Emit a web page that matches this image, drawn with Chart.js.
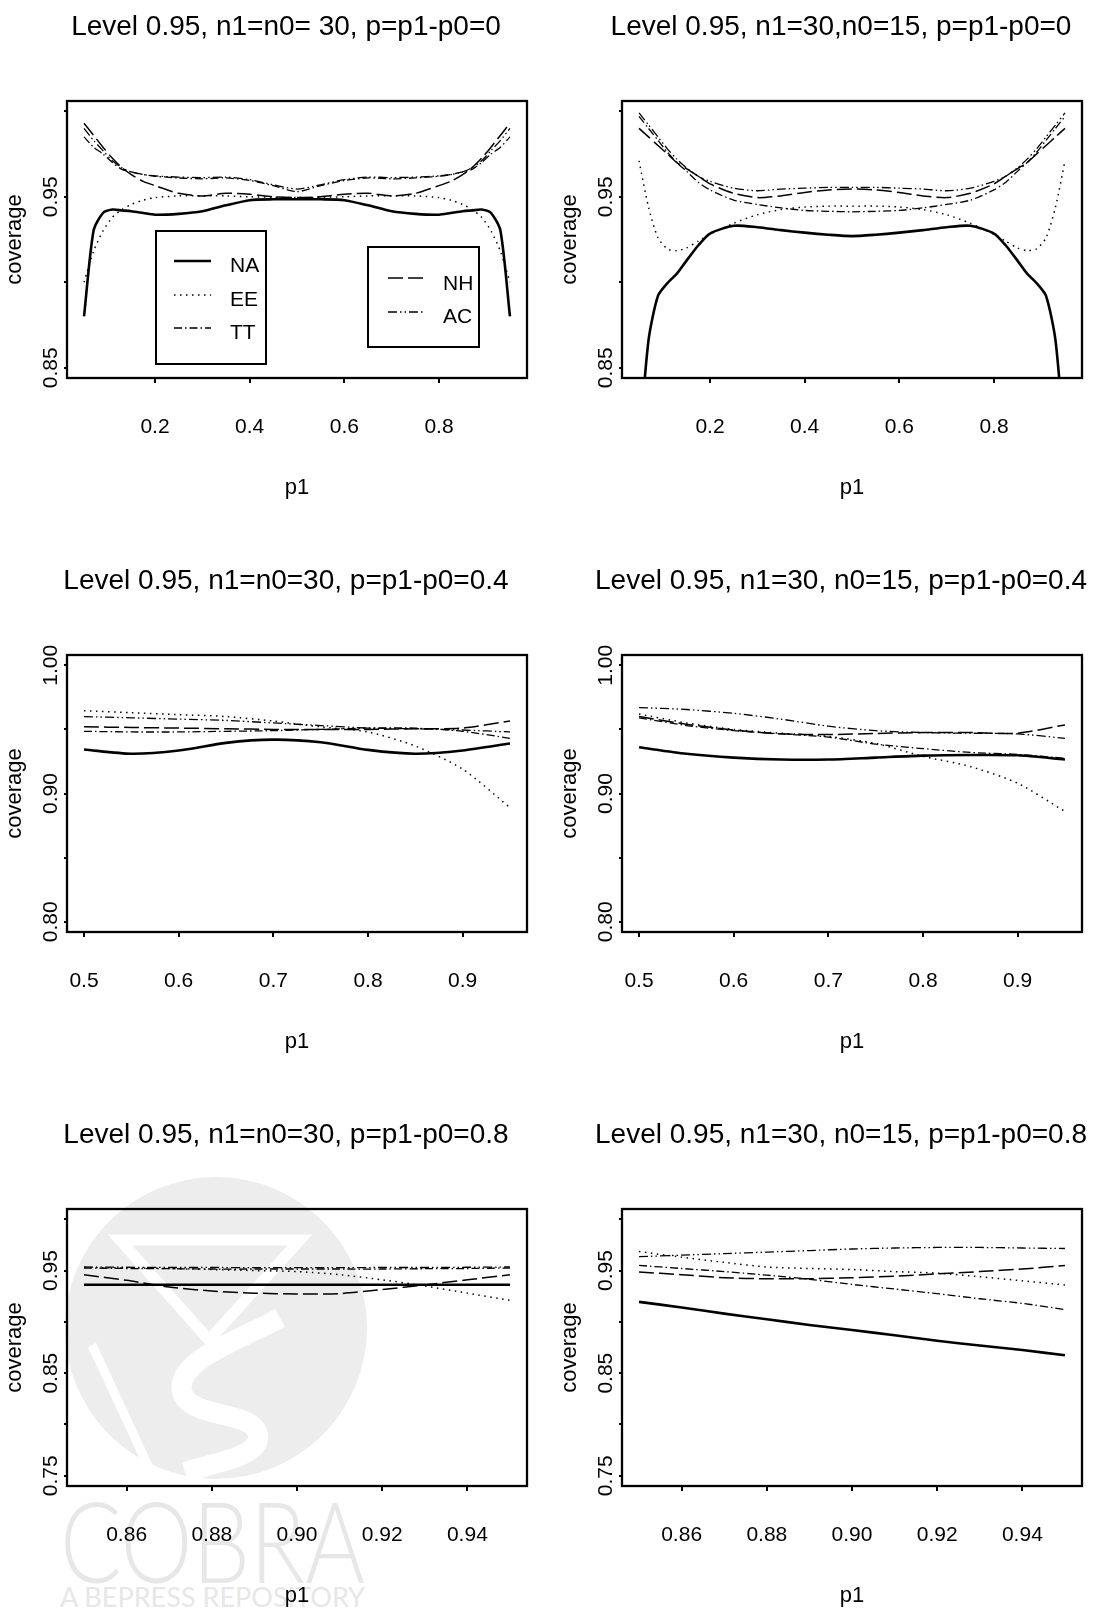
<!DOCTYPE html>
<html>
<head>
<meta charset="utf-8">
<script src="https://cdn.jsdelivr.net/npm/chart.js@4.4.0/dist/chart.umd.min.js"></script>
<style>
html, body { margin: 0; padding: 0; background: #fff; }
#page { position: relative; width: 1095px; height: 1610px; overflow: hidden; background: #fff; }
#page canvas { position: absolute; }
#mark { position: absolute; left: 0; top: 0; }
</style>
</head>
<body>
<div id="page">
  <svg id="mark" width="1095" height="1610">
    <circle cx="216" cy="1328" r="151" fill="#ededed"/>
    <polygon points="120,1240 300,1240 209,1340" fill="none" stroke="#fff" stroke-width="11"/>
    <path d="M280 1318 C240 1340 175 1360 182 1392 C190 1420 255 1410 258 1435 C260 1458 215 1462 185 1472" fill="none" stroke="#fff" stroke-width="20"/>
    <path d="M92 1345 L150 1470" stroke="#fff" stroke-width="9"/>
    <text x="60" y="1583" font-family="Lato, 'Open Sans', sans-serif" font-weight="300" font-size="112" fill="#e7e7e7" textLength="305" lengthAdjust="spacingAndGlyphs">COBRA</text>
    <text x="60" y="1607" font-family="Lato, 'Open Sans', sans-serif" font-size="26" fill="#e7e7e7" textLength="305" lengthAdjust="spacingAndGlyphs">A BEPRESS REPOSITORY</text>
  </svg>
  <canvas id="c0" width="540" height="554" style="left:0;top:0"></canvas>
  <canvas id="c1" width="540" height="554" style="left:555px;top:0"></canvas>
  <canvas id="c2" width="540" height="554" style="left:0;top:554px"></canvas>
  <canvas id="c3" width="540" height="554" style="left:555px;top:554px"></canvas>
  <canvas id="c4" width="540" height="554" style="left:0;top:1108px"></canvas>
  <canvas id="c5" width="540" height="554" style="left:555px;top:1108px"></canvas>
</div>
<script>
// ---- data ----
const names = ["NA", "EE", "TT", "NH", "AC"];
const titles = [
  "Level 0.95, n1=n0= 30, p=p1-p0=0",
  "Level 0.95, n1=30,n0=15, p=p1-p0=0",
  "Level 0.95, n1=n0=30, p=p1-p0=0.4",
  "Level 0.95, n1=30, n0=15, p=p1-p0=0.4",
  "Level 0.95, n1=n0=30, p=p1-p0=0.8",
  "Level 0.95, n1=30, n0=15, p=p1-p0=0.8"
];

// p = 0
const xA = [0.05, 0.07, 0.09, 0.11, 0.13, 0.15, 0.175, 0.2, 0.25, 0.3, 0.35, 0.4, 0.45, 0.5,
            0.55, 0.6, 0.65, 0.7, 0.75, 0.8, 0.825, 0.85, 0.87, 0.89, 0.91, 0.93, 0.95];
const xTicksA = [0.2, 0.4, 0.6, 0.8];
const yTicksA = [0.85, 0.90, 0.95, 1.00];
const yLabelsA = [0.85, 0.95];

const na1 = [0.880, 0.930, 0.9405, 0.9425, 0.942, 0.9415, 0.9405, 0.9395, 0.940, 0.9415, 0.945, 0.948, 0.9485, 0.9485,
             0.9485, 0.948, 0.945, 0.9415, 0.940, 0.9395, 0.9405, 0.9415, 0.942, 0.9425, 0.9405, 0.930, 0.880];
const ee1 = [0.900, 0.918, 0.930, 0.938, 0.9425, 0.9455, 0.948, 0.9495, 0.9505, 0.9505, 0.9505, 0.950, 0.9497, 0.9495,
             0.9497, 0.950, 0.9505, 0.9505, 0.9505, 0.9495, 0.948, 0.9455, 0.9425, 0.938, 0.930, 0.918, 0.900];
const tt1 = [0.985, 0.979, 0.975, 0.970, 0.966, 0.9645, 0.963, 0.962, 0.961, 0.9605, 0.961, 0.9595, 0.9565, 0.953,
             0.9565, 0.9595, 0.961, 0.9605, 0.961, 0.962, 0.963, 0.9645, 0.966, 0.970, 0.975, 0.979, 0.985];
const nh1 = [0.993, 0.986, 0.979, 0.9725, 0.967, 0.963, 0.959, 0.9565, 0.952, 0.9505, 0.952, 0.9515, 0.950, 0.9495,
             0.950, 0.9515, 0.952, 0.9505, 0.952, 0.9565, 0.959, 0.963, 0.967, 0.9725, 0.979, 0.986, 0.993];
const ac1 = [0.990, 0.983, 0.977, 0.971, 0.967, 0.9645, 0.963, 0.9622, 0.9615, 0.9612, 0.9615, 0.960, 0.957, 0.9545,
             0.957, 0.960, 0.9615, 0.9612, 0.9615, 0.9622, 0.963, 0.9645, 0.967, 0.971, 0.977, 0.983, 0.990];

const na2 = [0.803, 0.866, 0.892, 0.8995, 0.905, 0.9125, 0.9215, 0.9285, 0.933, 0.9322, 0.9305, 0.929, 0.9278, 0.927,
             0.9278, 0.929, 0.9305, 0.9322, 0.933, 0.9285, 0.9215, 0.9125, 0.905, 0.8995, 0.892, 0.866, 0.803];
const ee2 = [0.971, 0.944, 0.926, 0.9195, 0.9185, 0.920, 0.924, 0.928, 0.9345, 0.9395, 0.9425, 0.944, 0.9445, 0.9445,
             0.9445, 0.944, 0.9425, 0.9395, 0.9345, 0.928, 0.924, 0.920, 0.9185, 0.9195, 0.926, 0.944, 0.971];
const tt2 = [0.997, 0.990, 0.983, 0.976, 0.970, 0.965, 0.9585, 0.954, 0.948, 0.9455, 0.9435, 0.942, 0.9415, 0.9412,
             0.9415, 0.942, 0.9435, 0.9455, 0.948, 0.954, 0.9585, 0.965, 0.970, 0.976, 0.983, 0.990, 0.997];
const nh2 = [0.990, 0.985, 0.980, 0.975, 0.970, 0.9665, 0.962, 0.9575, 0.952, 0.9495, 0.9505, 0.9525, 0.954, 0.9545,
             0.954, 0.9525, 0.9505, 0.9495, 0.952, 0.9575, 0.962, 0.9665, 0.970, 0.975, 0.980, 0.985, 0.990];
const ac2 = [0.999, 0.992, 0.985, 0.978, 0.972, 0.967, 0.962, 0.959, 0.955, 0.9535, 0.9545, 0.955, 0.9555, 0.9555,
             0.9555, 0.955, 0.9545, 0.9535, 0.955, 0.959, 0.962, 0.967, 0.972, 0.978, 0.985, 0.992, 0.999];

// p = 0.4
const xB = [0.5, 0.55, 0.6, 0.65, 0.7, 0.75, 0.8, 0.85, 0.9, 0.95];
const xTicksB = [0.5, 0.6, 0.7, 0.8, 0.9];
const yTicksB = [0.80, 0.85, 0.90, 0.95, 1.00];
const yLabelsB = [0.80, 0.90, 1.00];

const na3 = [0.9343, 0.931, 0.9335, 0.9395, 0.942, 0.940, 0.934, 0.931, 0.9335, 0.939];
const ee3 = [0.9645, 0.963, 0.9615, 0.960, 0.9565, 0.952, 0.948, 0.937, 0.919, 0.889];
const tt3 = [0.9485, 0.948, 0.948, 0.9485, 0.949, 0.950, 0.951, 0.951, 0.9485, 0.943];
const nh3 = [0.952, 0.9515, 0.951, 0.9505, 0.950, 0.950, 0.950, 0.9505, 0.951, 0.9565];
const ac3 = [0.960, 0.959, 0.958, 0.957, 0.955, 0.953, 0.951, 0.9505, 0.9495, 0.948];

const na4 = [0.936, 0.931, 0.928, 0.9265, 0.9265, 0.928, 0.9295, 0.930, 0.9298, 0.9265];
const ee4 = [0.962, 0.955, 0.950, 0.947, 0.9445, 0.939, 0.929, 0.921, 0.908, 0.886];
const tt4 = [0.959, 0.953, 0.949, 0.9465, 0.944, 0.9385, 0.935, 0.932, 0.9305, 0.9275];
const nh4 = [0.960, 0.954, 0.9495, 0.9465, 0.946, 0.9468, 0.9475, 0.9475, 0.947, 0.9535];
const ac4 = [0.967, 0.9655, 0.9625, 0.958, 0.9525, 0.949, 0.9475, 0.947, 0.9465, 0.943];

// p = 0.8
const xC = [0.85, 0.86, 0.87, 0.88, 0.89, 0.90, 0.91, 0.92, 0.93, 0.94, 0.95];
const xTicksC = [0.86, 0.88, 0.90, 0.92, 0.94];
const yTicksC = [0.75, 0.80, 0.85, 0.90, 0.95, 1.00];
const yLabelsC = [0.75, 0.85, 0.95];

const na5 = [0.9362, 0.9362, 0.9362, 0.9362, 0.9362, 0.9362, 0.9362, 0.9362, 0.9362, 0.9362, 0.9362];
const ee5 = [0.953, 0.9525, 0.952, 0.951, 0.950, 0.949, 0.946, 0.941, 0.935, 0.928, 0.921];
const tt5 = [0.9525, 0.952, 0.9518, 0.9515, 0.9515, 0.9515, 0.9515, 0.9515, 0.9518, 0.952, 0.9525];
const nh5 = [0.9458, 0.9405, 0.934, 0.930, 0.928, 0.9272, 0.9275, 0.9315, 0.936, 0.941, 0.9458];
const ac5 = [0.9535, 0.9532, 0.953, 0.953, 0.9528, 0.9528, 0.9528, 0.953, 0.953, 0.9532, 0.9535];

const na6 = [0.9195, 0.914, 0.908, 0.9025, 0.897, 0.892, 0.887, 0.8815, 0.877, 0.8725, 0.8675];
const ee6 = [0.9685, 0.963, 0.958, 0.9535, 0.952, 0.951, 0.949, 0.9475, 0.944, 0.940, 0.936];
const tt6 = [0.955, 0.952, 0.949, 0.9455, 0.9415, 0.9365, 0.932, 0.9275, 0.9225, 0.918, 0.912];
const nh6 = [0.9485, 0.946, 0.943, 0.942, 0.942, 0.943, 0.9445, 0.9468, 0.949, 0.9515, 0.955];
const ac6 = [0.9635, 0.965, 0.9665, 0.968, 0.9695, 0.971, 0.972, 0.9725, 0.9725, 0.972, 0.9715];

// ---- styles / layout ----
const FONT = '"Liberation Sans", Arial, sans-serif';
Chart.defaults.font.family = FONT;
Chart.defaults.color = "#000";

const lineStyle = {
  NA: { w: 2.6, dash: [] },
  EE: { w: 1.5, dash: [1.5, 4.5] },
  TT: { w: 1.3, dash: [8, 3, 1.5, 3] },
  NH: { w: 1.5, dash: [15, 5] },
  AC: { w: 1.3, dash: [9, 3, 1.5, 3, 1.5, 3] }
};

// legend boxes of the first panel (canvas coords)
const legendBoxes = [
  { x: 156, y: 231, w: 110, h: 133 },
  { x: 368, y: 247, w: 111, h: 100 }
];
const legendRows = [
  { label: "NA", x1: 174, x2: 211, ly: 261, tx: 230, ty: 266 },
  { label: "EE", x1: 174, x2: 211, ly: 295, tx: 230, ty: 300 },
  { label: "TT", x1: 174, x2: 211, ly: 328, tx: 230, ty: 333 },
  { label: "NH", x1: 388, x2: 423, ly: 278, tx: 443, ty: 284 },
  { label: "AC", x1: 388, x2: 423, ly: 312, tx: 443, ty: 317 }
];

const framePlugin = {
  id: "frame",
  afterDraw(chart, args, opts) {
    const { ctx, chartArea: a } = chart;
    ctx.save();
    ctx.strokeStyle = "#000";
    ctx.lineWidth = 2.3;
    ctx.setLineDash([]);
    ctx.strokeRect(a.left, a.top, a.right - a.left, a.bottom - a.top);

    // rotated y tick labels
    const ys = chart.scales.y;
    ctx.fillStyle = "#000";
    ctx.font = "21px " + FONT;
    ctx.textAlign = "center";
    ctx.textBaseline = "alphabetic";
    opts.yLabels.forEach(v => {
      ctx.save();
      ctx.translate(a.left - 10, ys.getPixelForValue(v));
      ctx.rotate(-Math.PI / 2);
      ctx.fillText(v.toFixed(2), 0, 0);
      ctx.restore();
    });

    // panel title
    ctx.font = "28px " + FONT;
    ctx.textBaseline = "middle";
    ctx.fillText(opts.title, (a.left + a.right) / 2 - 11, 27);

    if (opts.legend) {
      ctx.lineWidth = 2;
      legendBoxes.forEach(b => ctx.strokeRect(b.x, b.y, b.w, b.h));
      ctx.font = "21px " + FONT;
      ctx.textAlign = "left";
      legendRows.forEach(r => {
        const ds = chart.data.datasets.find(d => d.label === r.label);
        ctx.lineWidth = ds.borderWidth;
        ctx.setLineDash(ds.borderDash);
        ctx.beginPath();
        ctx.moveTo(r.x1, r.ly);
        ctx.lineTo(r.x2, r.ly);
        ctx.stroke();
        ctx.setLineDash([]);
        ctx.fillText(r.label, r.tx, r.ty);
      });
    }
    ctx.restore();
  }
};

const panels = [
  { x: xA, ys: [na1, ee1, tt1, nh1, ac1], xr: [0.014, 0.986], yr: [0.844, 1.006], xt: xTicksA, dec: 1, yt: yTicksA, yl: yLabelsA, legend: true },
  { x: xA, ys: [na2, ee2, tt2, nh2, ac2], xr: [0.014, 0.986], yr: [0.844, 1.006], xt: xTicksA, dec: 1, yt: yTicksA, yl: yLabelsA },
  { x: xB, ys: [na3, ee3, tt3, nh3, ac3], xr: [0.482, 0.968], yr: [0.792, 1.008], xt: xTicksB, dec: 1, yt: yTicksB, yl: yLabelsB },
  { x: xB, ys: [na4, ee4, tt4, nh4, ac4], xr: [0.482, 0.968], yr: [0.792, 1.008], xt: xTicksB, dec: 1, yt: yTicksB, yl: yLabelsB },
  { x: xC, ys: [na5, ee5, tt5, nh5, ac5], xr: [0.846, 0.954], yr: [0.74, 1.01], xt: xTicksC, dec: 2, yt: yTicksC, yl: yLabelsC },
  { x: xC, ys: [na6, ee6, tt6, nh6, ac6], xr: [0.846, 0.954], yr: [0.74, 1.01], xt: xTicksC, dec: 2, yt: yTicksC, yl: yLabelsC }
];

panels.forEach((p, i) => {
  const datasets = names.map((n, k) => ({
    label: n,
    data: p.x.map((x, j) => ({ x: x, y: p.ys[k][j] })),
    borderColor: "#000",
    borderWidth: lineStyle[n].w,
    borderDash: lineStyle[n].dash,
    pointRadius: 0,
    tension: 0.25,
    fill: false
  }));

  new Chart(document.getElementById("c" + i), {
    type: "line",
    data: { datasets },
    options: {
      responsive: false,
      animation: false,
      devicePixelRatio: 1,
      layout: { padding: { top: 101, right: 13, bottom: 0, left: 0 } },
      plugins: {
        legend: { display: false },
        tooltip: { enabled: false },
        frame: { title: titles[i], yLabels: p.yl, legend: !!p.legend }
      },
      scales: {
        x: {
          type: "linear",
          min: p.xr[0],
          max: p.xr[1],
          afterBuildTicks: s => { s.ticks = p.xt.map(v => ({ value: v })); },
          afterFit: s => { s.height = 176; },
          grid: { drawOnChartArea: false, drawTicks: true, tickLength: 5, color: "#000", lineWidth: 2 },
          border: { display: false },
          ticks: { font: { size: 21 }, color: "#000", padding: 32, autoSkip: false, maxRotation: 0,
                   callback: v => Number(v).toFixed(p.dec) },
          title: { display: true, text: "p1", font: { size: 22 }, color: "#000", padding: { top: 0, bottom: 53 } }
        },
        y: {
          type: "linear",
          min: p.yr[0],
          max: p.yr[1],
          afterBuildTicks: s => { s.ticks = p.yt.map(v => ({ value: v })); },
          afterFit: s => { s.width = 67; },
          grid: { drawOnChartArea: false, drawTicks: true, tickLength: 3, color: "#000", lineWidth: 2 },
          border: { display: false },
          ticks: { display: false },
          title: { display: true, text: "coverage", font: { size: 22 }, color: "#000", padding: { top: 2, bottom: 0 } }
        }
      }
    },
    plugins: [framePlugin]
  });
});
</script>
</body>
</html>
